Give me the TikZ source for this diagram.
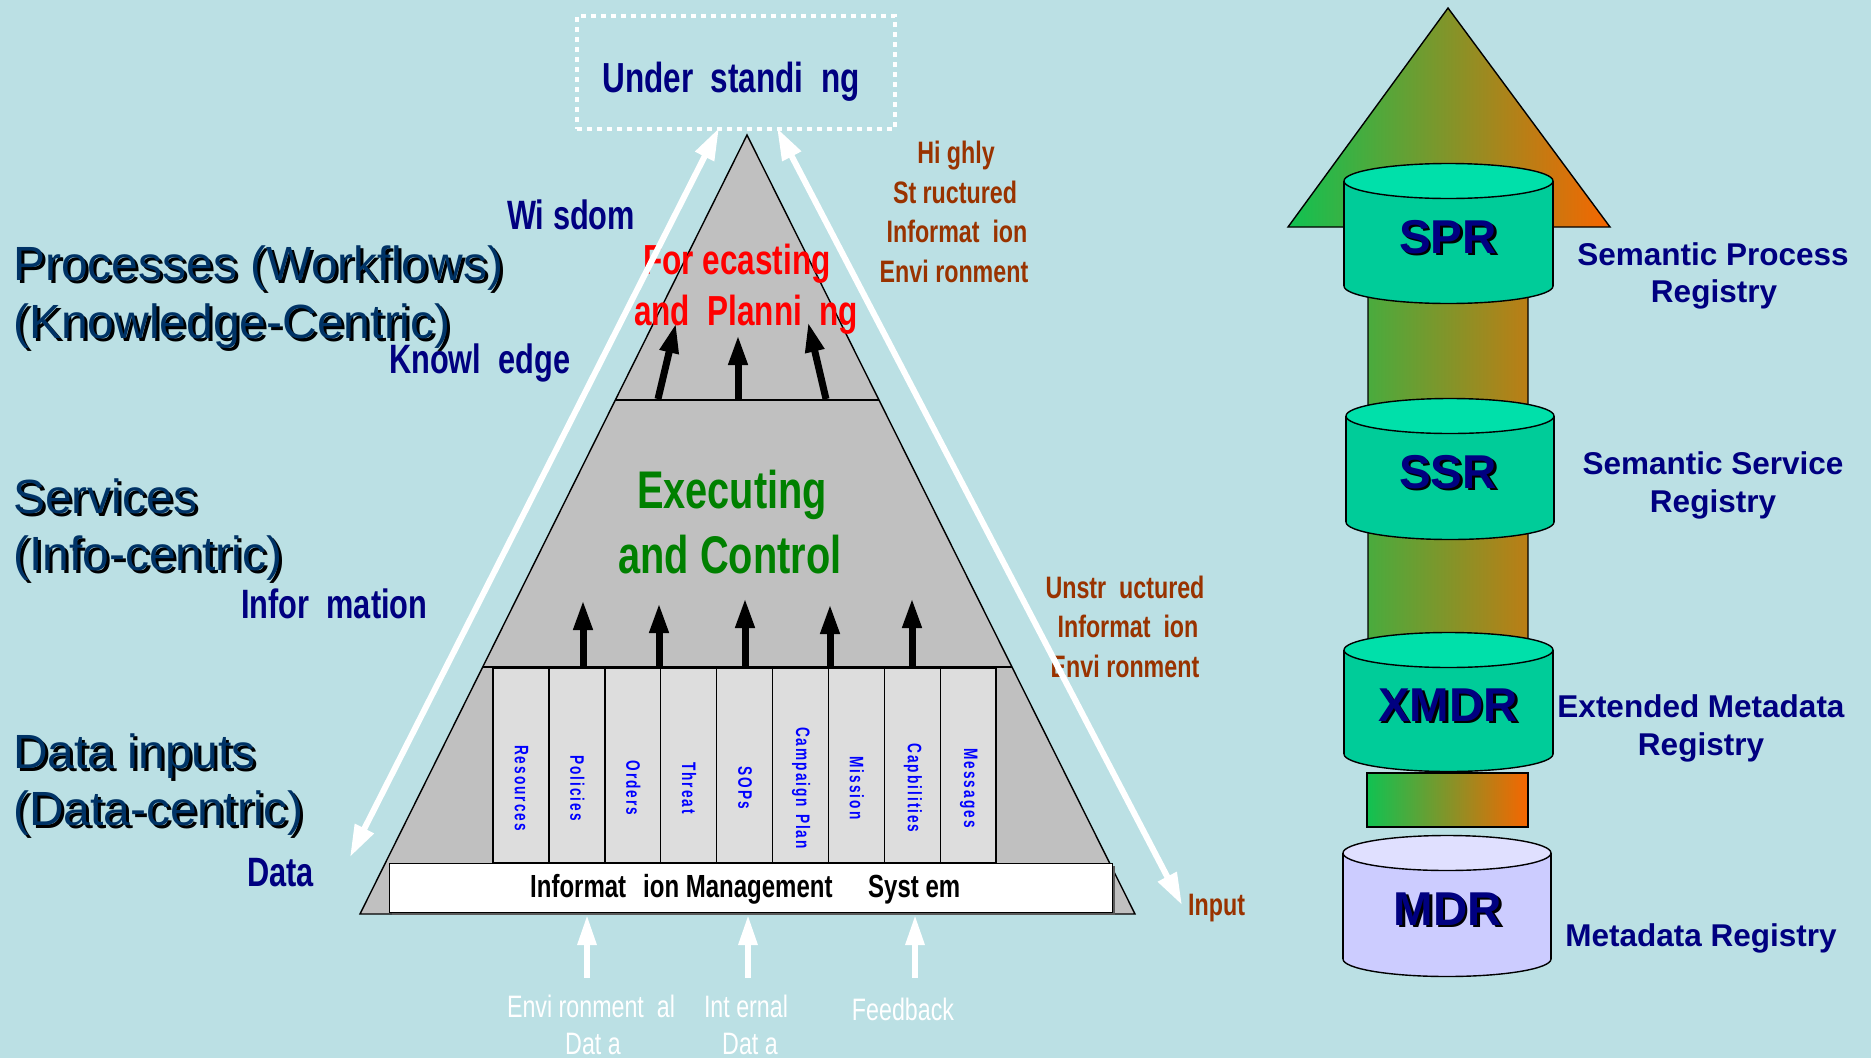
\documentclass[tikz,border=0pt]{standalone}
\usepackage{fontspec}
\setmainfont{Liberation Sans}
\newfontfamily\nar[FakeStretch=0.75]{Liberation Sans}
\newfontfamily\narv[FakeStretch=0.7]{Liberation Sans}
\usetikzlibrary{arrows.meta,calc}
\definecolor{bgc}{RGB}{187,224,228}
\definecolor{navyc}{RGB}{0,0,128}
\definecolor{dblue}{RGB}{0,51,102}
\definecolor{brownc}{RGB}{153,51,0}
\definecolor{redc}{RGB}{255,0,0}
\definecolor{greenc}{RGB}{0,128,0}
\definecolor{pyrg}{RGB}{192,192,192}
\definecolor{colg}{RGB}{221,221,221}
\definecolor{cylside}{RGB}{0,204,153}
\definecolor{cyltop}{RGB}{0,224,170}
\definecolor{mdrside}{RGB}{204,204,255}
\definecolor{mdrtop}{RGB}{224,224,255}
\definecolor{gL}{RGB}{16,194,82}
\definecolor{gR}{RGB}{246,102,0}
\definecolor{blu}{RGB}{0,0,255}
\definecolor{shad}{RGB}{90,90,90}
\def\lspc#1{\lspcA#1\relax}
\def\lspcA#1{\ifx#1\relax\else#1\kern2pt\expandafter\lspcA\fi}
\begin{document}
\begin{tikzpicture}[x=1pt,y=-1pt,
  outl/.style={draw=black, line width=1.4pt},
  navylbl/.style={font=\nar\bfseries\fontsize{41}{48}\selectfont, text=navyc, inner sep=0pt, anchor=base west},
  brownlbl/.style={font=\nar\bfseries\fontsize{31}{36}\selectfont, text=brownc, inner sep=0pt, anchor=base},
  redlbl/.style={font=\nar\bfseries\fontsize{42}{48}\selectfont, text=redc, inner sep=0pt, anchor=base},
  greenlbl/.style={font=\nar\bfseries\fontsize{53}{60}\selectfont, text=greenc, inner sep=0pt, anchor=base},
  undlbl/.style={font=\nar\bfseries\fontsize{42}{48}\selectfont, text=navyc, inner sep=0pt, anchor=base},
  bigA/.style={font=\fontsize{48}{56}\selectfont, inner sep=0pt, anchor=base west},
  reglbl/.style={font=\bfseries\fontsize{31.5}{36}\selectfont, text=navyc, inner sep=0pt, anchor=base},
  cyllbl/.style={font=\bfseries\fontsize{47.5}{54}\selectfont, inner sep=0pt, anchor=base},
  imslbl/.style={font=\nar\bfseries\fontsize{32}{36}\selectfont, text=black, inner sep=0pt, anchor=base west},
  whitelbl/.style={font=\nar\fontsize{31}{36}\selectfont, text=white, inner sep=0pt, anchor=base},
  collbl/.style={font=\narv\bfseries\fontsize{19.5}{22}\selectfont, text=blu, inner sep=0pt, rotate=-90},
  colbox/.style={draw=black, line width=1.4pt, fill=colg, minimum width=55.9pt, minimum height=195pt, inner sep=0pt, outer sep=0pt},
  blkarrow/.style={draw=black, line width=7pt, -{Triangle[width=18pt,length=30pt]}},
  whtarrow/.style={draw=white, line width=6pt, -{Triangle[width=18pt,length=30pt]}},
  dblarrow/.style={draw=white, line width=6pt, {Triangle[width=20pt,length=32pt]}-{Triangle[width=20pt,length=32pt]}}
]
\useasboundingbox (0,0) rectangle (1871,1058);
\fill[bgc] (0,0) rectangle (1871,1058);

% ---------- Understanding box
\node[draw=white, dash pattern=on 5pt off 5pt, line width=4pt, minimum width=318pt, minimum height=113pt, inner sep=0pt, anchor=north west] (und) at (575,14) {};
\node[undlbl] (undT) at (731,92) {Under\ \ standi\ \ ng};

% ---------- left big labels with shadow
\foreach \nm/\tx/\yy in {procA/{Processes (Workflows)}/280, procB/{(Knowledge-Centric)}/338, servA/{Services}/513, servB/{(Info-centric)}/570, datA/{Data inputs}/768, datB/{(Data-centric)}/825}{
  \node[bigA, text=black] (\nm s) at (16,{\yy+3}) {\tx};
  \node[bigA, text=dblue] (\nm) at (13,\yy) {\tx};
}

% ---------- pyramid
\coordinate (apex) at (747,135);
\coordinate (bl) at (360,914);
\coordinate (br) at (1135,914);
\filldraw[fill=pyrg, outl] (apex) -- (br) -- (bl) -- cycle;
\draw[outl] ($(apex)!0.3402!(bl)$) -- ($(apex)!0.3402!(br)$);
\draw[outl] ($(apex)!0.6829!(bl)$) -- ($(apex)!0.6829!(br)$);

% columns
\foreach \i/\lab in {0/{\lspc{Resources}},1/{\lspc{Policies}},2/{\lspc{Orders}},3/{\lspc{Threat}},4/{\lspc{SOPs}},5/{\lspc{Campaign}\kern5pt\lspc{Plan}},6/{\lspc{Mission}},7/{\lspc{Capbilities}},8/{\lspc{Messages}}}{
  \node[colbox] (col\i) at ({493+55.9*\i+27.95},765.5) {};
  \node[collbl] (lab\i) at ({493+55.9*\i+28.5},789) {\lab};
}

% information management system box
\fill[shad] (392,866) rectangle (1115,915);
\node[draw=black, line width=1.4pt, fill=white, minimum width=723pt, minimum height=49pt, inner sep=0pt, anchor=north west] (ims) at (389,863) {};
\node[imslbl] (imsA) at (530,897) {Informat};
\node[imslbl] (imsB) at (643,897) {ion Management};
\node[imslbl] (imsC) at (868,897) {Syst em};

% black arrows (executing)
\foreach \k/\xx/\yt in {1/583/600, 2/659/603, 3/745/598, 4/830/604, 5/912/598}{
  \coordinate (eb\k) at (\xx,666);
  \coordinate (et\k) at (\xx,\yt);
  \draw[blkarrow] (eb\k) -- (et\k);
}
% black arrows (forecasting)
\coordinate (fb1) at (658,399); \coordinate (ft1) at (676,323);
\coordinate (fb2) at (738,399); \coordinate (ft2) at (738,335);
\coordinate (fb3) at (826,399); \coordinate (ft3) at (808,322);
\foreach \k in {1,2,3}{ \draw[blkarrow] (fb\k) -- (ft\k); }

% texts in pyramid
\node[redlbl] (fc1) at (737,274) {For ecasting};
\node[redlbl] (fc2) at (746,325) {and\ \ Planni\ \ ng};
\node[greenlbl] (ex1) at (732,508) {Executing};
\node[greenlbl] (ex2) at (730,573) {and Control};

% navy labels
\node[navylbl] (wis) at (507,229) {Wi sdom};
\node[navylbl] (kno) at (389,373) {Knowl\ \ edge};
\node[navylbl] (inf) at (241,618) {Infor\ \ mation};
\node[navylbl] (dat) at (247,886) {Data};

% brown labels
\node[brownlbl] (hs1) at (956,163) {Hi ghly};
\node[brownlbl] (hs2) at (955,203) {St ructured};
\node[brownlbl] (hs3) at (957,242) {Informat\ \ ion};
\node[brownlbl] (hs4) at (954,282) {Envi ronment};
\node[brownlbl] (us1) at (1125,598) {Unstr\ \ uctured};
\node[brownlbl] (us2) at (1128,637) {Informat\ \ ion};
\node[brownlbl] (us3) at (1125,677) {Envi ronment};
\node[brownlbl, anchor=base west] (inp) at (1188,915) {Input};

% bottom white labels
\node[whitelbl] (env1) at (591,1017) {Envi ronment\ \ al};
\node[whitelbl] (env2) at (593,1054) {Dat a};
\node[whitelbl] (int1) at (746,1017) {Int ernal};
\node[whitelbl] (int2) at (750,1054) {Dat a};
\node[whitelbl] (fdb) at (903,1020) {Feedback};

% bottom white arrows
\foreach \k/\xx in {1/587,2/748,3/915}{
  \coordinate (wb\k) at (\xx,978);
  \coordinate (wt\k) at (\xx,915);
  \draw[whtarrow] (wb\k) -- (wt\k);
}

% big white diagonal arrows
\coordinate (dl1) at (350,857); \coordinate (dl2) at (719,128);
\coordinate (dr1) at (777,128); \coordinate (dr2) at (1182,905);
\draw[dblarrow] (dl1) -- (dl2);
\draw[dblarrow] (dr1) -- (dr2);

% ---------- right side gradient arrow
\shadedraw[left color=gL, right color=gR, outl] (1448,8) -- (1610,227) -- (1528,227) -- (1528,720) -- (1368,720) -- (1368,227) -- (1288,227) -- cycle;
\shadedraw[left color=gL, right color=gR, outl] (1367,773) rectangle (1528,827);

% cylinders
\foreach \L/\R/\ct/\cb/\cs/\clt in {1344/1553/181/286/cylside/cyltop, 1346/1554/416/522/cylside/cyltop, 1344/1553/650/754/cylside/cyltop, 1343/1551/853/959/mdrside/mdrtop}{
  \pgfmathsetmacro\cx{(\L+\R)/2}
  \pgfmathsetmacro\rx{(\R-\L)/2}
  \filldraw[fill=\cs, outl] (\cx,\cb) ellipse [x radius=\rx, y radius=17.5];
  \fill[\cs] (\L,\ct) rectangle (\R,\cb);
  \draw[outl] (\L,\ct) -- (\L,\cb) (\R,\ct) -- (\R,\cb);
  \filldraw[fill=\clt, outl] (\cx,\ct) ellipse [x radius=\rx, y radius=17.5];
}
\foreach \nm/\tx/\yy in {spr/SPR/253, ssr/SSR/488, xmdr/XMDR/721, mdr/MDR/925}{
  \node[cyllbl, text=black] (\nm s) at (1450.5,{\yy+2.5}) {\tx};
  \node[cyllbl, text=navyc] (\nm) at (1448,\yy) {\tx};
}

% registry labels
\node[reglbl] (r1a) at (1713,265) {Semantic Process};
\node[reglbl] (r1b) at (1714,302) {Registry};
\node[reglbl] (r2a) at (1713,474) {Semantic Service};
\node[reglbl] (r2b) at (1713,512) {Registry};
\node[reglbl] (r3a) at (1701,717) {Extended Metadata};
\node[reglbl] (r3b) at (1701,755) {Registry};
\node[reglbl] (r4a) at (1701,946) {Metadata Registry};
\end{tikzpicture}
\end{document}
